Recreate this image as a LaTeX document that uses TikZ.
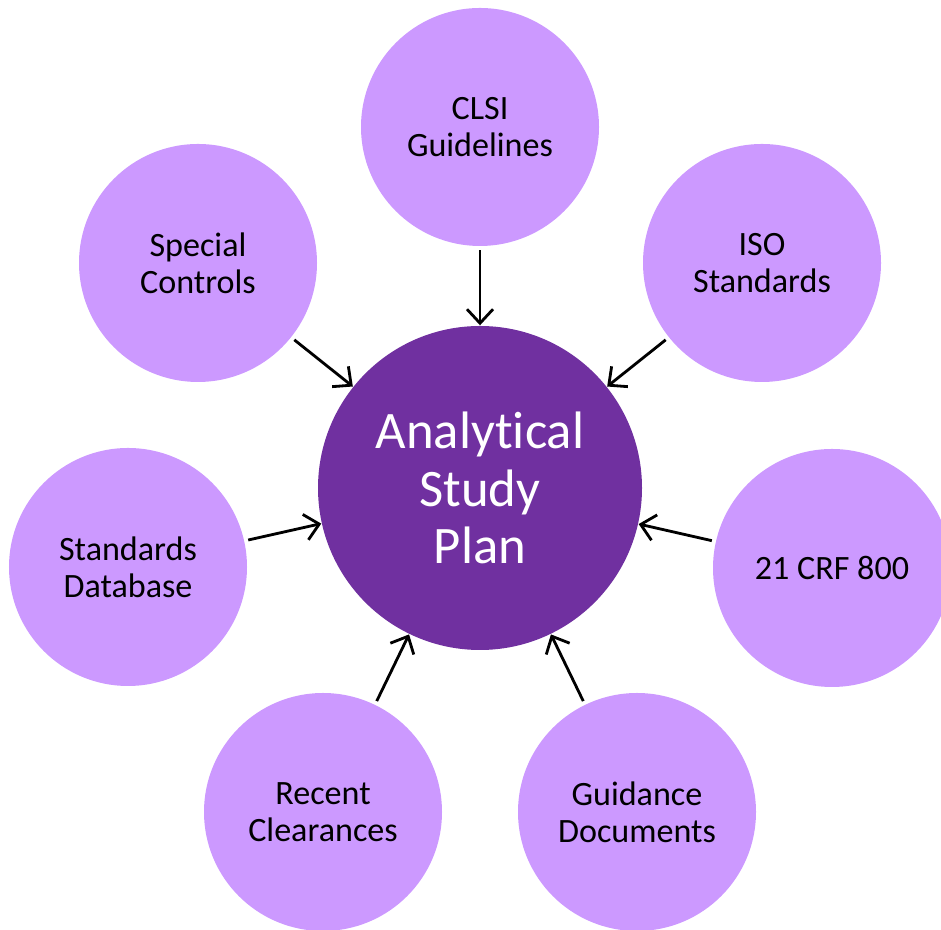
\documentclass[tikz,border=0pt]{standalone}
\usepackage{fontspec}
\setmainfont{Carlito}[Ligatures=NoCommon]
\usetikzlibrary{arrows.meta}

\definecolor{lightpurple}{HTML}{CC99FF}
\definecolor{darkpurple}{HTML}{7030A0}

\begin{document}
\begin{tikzpicture}
                \useasboundingbox (0,0) rectangle (9.41,9.30);
                \begin{scope}[every node/.style={circle,fill=lightpurple,minimum size=2.38cm,inner sep=1,align=center,font=\fontsize{9.7}{10.6}\selectfont}]
                        \node [fill=darkpurple,text=white,minimum size=3.24cm,font=\fontsize{15}{16.3}\selectfont] (ASP) at (4.80,4.42) {Analytical\\Study\\Plan};
                        \node (CLSI) at (4.80,8.03) {CLSI\\Guidelines};
                        \node (SC) at (1.98,6.67) {Special\\Controls};
                        \node (ISO) at (7.62,6.67) {ISO\\Standards};
                        \node (SDB) at (1.28,3.63) {Standards\\Database};
                        \node (CRF) at (8.32,3.62) {21 CRF 800};
                        \node (RC) at (3.23,1.18) {Recent\\Clearances};
                        \node (GD) at (6.37,1.18) {Guidance\\Documents};
                \end{scope}

                \begin{scope}[every path/.style={line width=0.8pt, ->, >={Straight Barb[length=1.4mm,width=2.6mm]}, shorten <=1pt}]
                        \path (CLSI) edge (ASP);
                        \path (SC) edge (ASP);
                        \path (ISO) edge (ASP);
                        \path (SDB) edge (ASP);
                        \path (CRF) edge (ASP);
                        \path (RC) edge (ASP);
                        \path (GD) edge (ASP);
                \end{scope}
\end{tikzpicture}
\end{document}
